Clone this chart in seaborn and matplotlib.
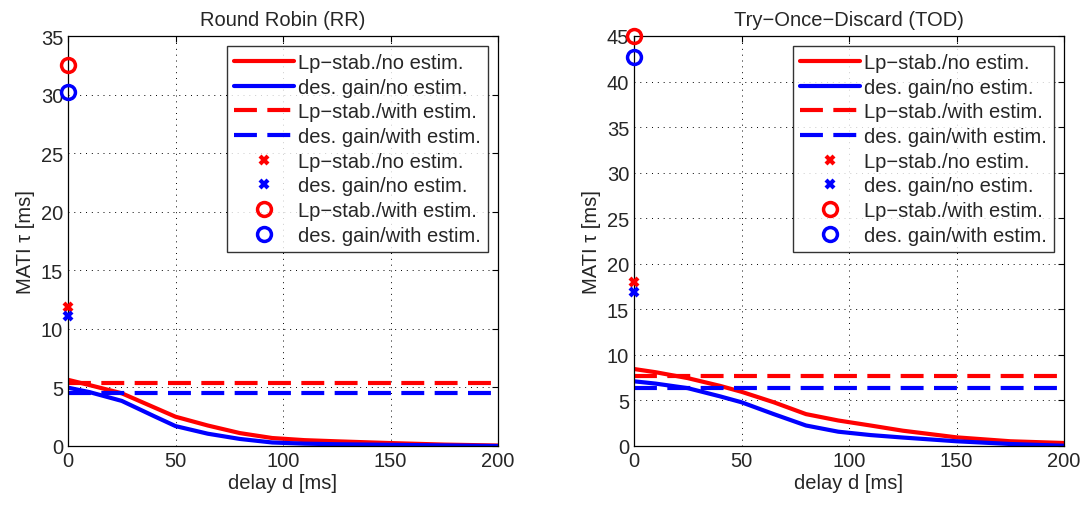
import matplotlib
matplotlib.use("Agg")
import matplotlib.pyplot as plt
import seaborn as sns

# delay grid [ms]
delay = [0, 10, 25, 40, 50, 65, 80, 95, 110, 125, 150, 175, 200]

# Round Robin
rr_lp_noest = [5.65, 5.2, 4.5, 3.3, 2.5, 1.75, 1.1, 0.68, 0.5, 0.4, 0.25, 0.12, 0.04]
rr_gain_noest = [4.98, 4.6, 3.85, 2.55, 1.7, 1.05, 0.6, 0.3, 0.2, 0.15, 0.1, 0.05, 0.0]
rr_lp_est = 5.38
rr_gain_est = 4.53
rr_zero = [11.84, 11.1, 32.5, 30.2]   # cross red, cross blue, circle red, circle blue

# Try-Once-Discard
tod_lp_noest = [8.45, 8.1, 7.45, 6.6, 5.95, 4.8, 3.5, 2.8, 2.25, 1.68, 0.95, 0.52, 0.33]
tod_gain_noest = [7.1, 6.85, 6.35, 5.45, 4.8, 3.5, 2.25, 1.57, 1.2, 0.93, 0.52, 0.22, 0.03]
tod_lp_est = 7.7
tod_gain_est = 6.4
tod_zero = [18.0, 16.9, 45.0, 42.7]

labels = ["Lp\u2212stab./no estim.", "des. gain/no estim.",
          "Lp\u2212stab./with estim.", "des. gain/with estim.",
          "Lp\u2212stab./no estim.", "des. gain/no estim.",
          "Lp\u2212stab./with estim.", "des. gain/with estim."]

sns.set_theme(style="white")
plt.rcParams['font.family'] = ['Liberation Sans', 'DejaVu Sans']
FS = 14.5

fig = plt.figure(figsize=(10.86, 5.06), dpi=100)
ax1 = fig.add_axes([68 / 1086, 59 / 506, 430 / 1086, 410 / 506])
ax2 = fig.add_axes([634 / 1086, 59 / 506, 430 / 1086, 410 / 506])


def draw(ax, lp, gain, lp_est, gain_est, zero, ymax, title):
    sns.lineplot(x=delay, y=lp, color="red", lw=3, ax=ax, label=labels[0])
    sns.lineplot(x=delay, y=gain, color="blue", lw=3, ax=ax, label=labels[1])
    ax.axhline(lp_est, color="red", lw=3, ls=(0, (5.5, 2.5)), label=labels[2])
    ax.axhline(gain_est, color="blue", lw=3, ls=(0, (5.5, 2.5)), label=labels[3])
    ax.plot([0], [zero[0]], ls="none", marker="x", color="red", ms=6, mew=3,
            clip_on=False, zorder=5, label=labels[4])
    ax.plot([0], [zero[1]], ls="none", marker="x", color="blue", ms=6, mew=3,
            clip_on=False, zorder=5, label=labels[5])
    ax.plot([0], [zero[2]], ls="none", marker="o", mfc="none", mec="red", ms=10,
            mew=2.5, clip_on=False, zorder=5, label=labels[6])
    ax.plot([0], [zero[3]], ls="none", marker="o", mfc="none", mec="blue", ms=10,
            mew=2.5, clip_on=False, zorder=5, label=labels[7])

    ax.set_xlim(0, 200)
    ax.set_ylim(0, ymax)
    ax.set_xticks(range(0, 201, 50))
    ax.set_yticks(range(0, ymax + 1, 5))
    ax.grid(True, color="black", ls=(0, (1, 5)), lw=0.7)
    ax.tick_params(direction="in", top=True, right=True, labelsize=FS,
                   length=4, width=0.8, color="black")
    for s in ax.spines.values():
        s.set_color("black")
        s.set_linewidth(0.9)
    ax.set_xlabel("delay d [ms]", fontsize=FS, labelpad=2)
    ax.set_ylabel("MATI \u03c4 [ms]", fontsize=FS, labelpad=4)
    ax.set_title(title, fontsize=FS, pad=8)
    leg = ax.legend(loc="upper right", fontsize=FS, handlelength=3.0,
                    frameon=True, fancybox=False, borderpad=0.35,
                    labelspacing=0.28, handletextpad=0.2,
                    borderaxespad=0.5)
    leg.get_frame().set_edgecolor("black")
    leg.get_frame().set_linewidth(1.0)


draw(ax1, rr_lp_noest, rr_gain_noest, rr_lp_est, rr_gain_est, rr_zero, 35,
     "Round Robin (RR)")
draw(ax2, tod_lp_noest, tod_gain_noest, tod_lp_est, tod_gain_est, tod_zero, 45,
     "Try\u2212Once\u2212Discard (TOD)")

fig.savefig("out.png", dpi=100)
